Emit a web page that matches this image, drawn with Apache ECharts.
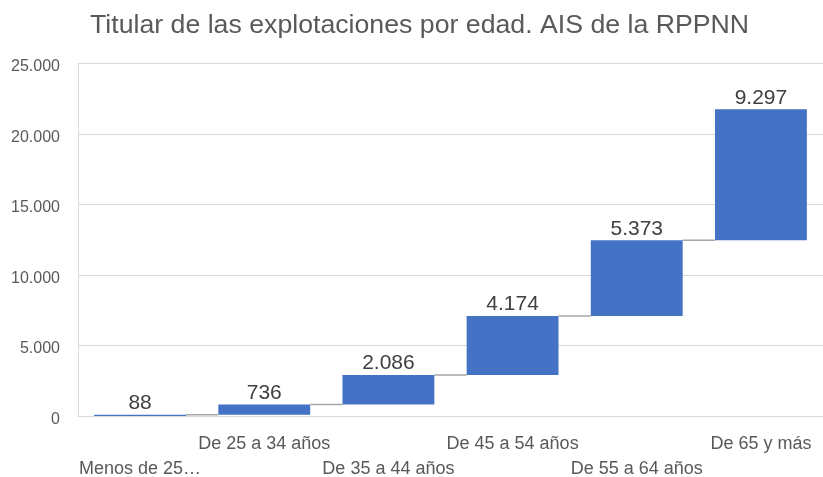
<!DOCTYPE html>
<html>
<head>
<meta charset="utf-8">
<script src="https://cdn.jsdelivr.net/npm/echarts@6/dist/echarts.min.js"></script>
<style>
  html, body { margin: 0; padding: 0; background: #fff; }
  #main { width: 823px; height: 477px; }
</style>
</head>
<body>
<div id="main"></div>
<script>
  // Edad del titular y nº de explotaciones
  var categories = ['Menos de 25…', 'De 25 a 34 años', 'De 35 a 44 años', 'De 45 a 54 años', 'De 55 a 64 años', 'De 65 y más'];
  var values = [88, 736, 2086, 4174, 5373, 9297];
  var yTicks = [0, 5000, 10000, 15000, 20000, 25000];

  // base invisible de la cascada (acumulado anterior)
  var bases = [];
  var tops = [];
  var acc = 0;
  for (var i = 0; i < values.length; i++) {
    bases.push(acc);
    acc += values[i];
    tops.push(acc);
  }
  var connectors = [];
  for (var j = 0; j < values.length - 1; j++) {
    connectors.push([j, tops[j]]);
  }

  function fmt(v) {
    return String(v).replace(/\B(?=(\d{3})+(?!\d))/g, '.');
  }

  var gapRatio = 0.26;
  var myChart = echarts.init(document.getElementById('main'));
  var option = {
    animation: false,
    textStyle: { fontFamily: 'Liberation Sans, Arial, sans-serif' },
    title: {
      text: 'Titular de las explotaciones por edad. AIS de la RPPNN',
      left: 85,
      top: 7,
      textStyle: { fontSize: 26.7, fontWeight: 'normal', color: '#595959', fontFamily: 'Liberation Sans, Arial, sans-serif' }
    },
    grid: { left: 78, right: 0, top: 63.5, bottom: 61, containLabel: false, outerBoundsMode: 'none' },
    xAxis: {
      type: 'category',
      data: categories,
      axisLine: { lineStyle: { color: '#d9d9d9', width: 1 } },
      axisTick: { show: false },
      axisLabel: {
        interval: 0,
        color: '#595959',
        fontSize: 18,
        margin: 16,
        lineHeight: 25,
        formatter: function (v, idx) {
          return idx % 2 === 0 ? '\n' + v : v;
        }
      }
    },
    yAxis: {
      type: 'value',
      min: yTicks[0],
      max: yTicks[yTicks.length - 1],
      interval: 5000,
      axisLine: { show: true, lineStyle: { color: '#d9d9d9', width: 1 } },
      axisTick: { show: false },
      splitLine: { lineStyle: { color: '#d9d9d9', width: 1 } },
      axisLabel: { color: '#595959', fontSize: 16, margin: 18, verticalAlign: 'top', lineHeight: 7, formatter: fmt }
    },
    series: [
      {
        type: 'bar',
        stack: 'total',
        data: bases,
        itemStyle: { color: 'transparent' },
        silent: true,
        z: 1
      },
      {
        type: 'bar',
        stack: 'total',
        data: values,
        barCategoryGap: (gapRatio * 100) + '%',
        itemStyle: { color: '#4472c4' },
        label: {
          show: true,
          position: 'top',
          distance: 1,
          color: '#404040',
          fontSize: 21,
          formatter: function (p) { return fmt(p.value); }
        },
        z: 2
      },
      {
        type: 'custom',
        data: connectors,
        z: 3,
        renderItem: function (params, api) {
          var idx = api.value(0);
          var level = api.value(1);
          var pt = api.coord([idx, level]);
          var band = api.size([1, 0])[0];
          var bw = band * (1 - gapRatio);
          return {
            type: 'line',
            shape: { x1: pt[0] + bw / 2, y1: pt[1], x2: pt[0] + band - bw / 2, y2: pt[1] },
            style: { stroke: '#a6a6a6', lineWidth: 1.5 }
          };
        }
      }
    ]
  };
  myChart.setOption(option);
</script>
</body>
</html>
